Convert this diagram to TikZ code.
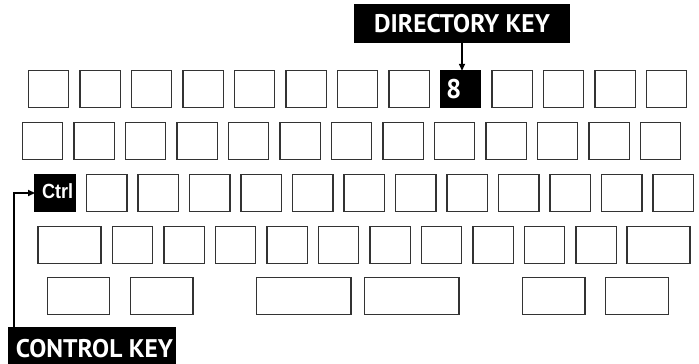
\documentclass[tikz,border=0pt]{standalone}
\usepackage{fontspec}
\setmainfont{PT Sans}
\newfontfamily\keyfont{Liberation Sans}
\usetikzlibrary{arrows.meta}
\begin{document}
\begin{tikzpicture}[x=1pt,y=-1pt,
  key/.style={draw=black!80,line width=1.3pt,minimum width=40.3pt,minimum height=37pt,inner sep=0pt,outer sep=0pt},
  blackkey/.style={key,fill=black,draw=black,text=white},
  label/.style={fill=black,text=white,inner sep=0pt,outer sep=0pt,font=\bfseries\fontsize{25.5}{25.5}\selectfont},
  conn/.style={line width=1.6pt,-{Triangle[length=7pt,width=6pt]}}]
\useasboundingbox (0,0) rectangle (699,364);
\begin{scope}
\clip (0,0) rectangle (699,364);
% row 1
\foreach \i in {0,...,12}{
  \ifnum\i=8
    \node[blackkey] (r1k\i) at (48.5+51.5*\i,89.3) {};
  \else
    \node[key] (r1k\i) at (48.5+51.5*\i,89.3) {};
  \fi
}
\node[text=white,anchor=west,inner sep=0pt,font=\bfseries\fontsize{27}{27}\selectfont] (eight) at ([xshift=5.5pt]r1k8.west) {8};
% row 2
\foreach \i in {0,...,12}{
  \node[key] (r2k\i) at (42.5+51.5*\i,141.3) {};
}
% row 3
\node[blackkey] (r3k0) at (55.2,193) {};
\node[text=white,inner sep=0pt,font=\keyfont\bfseries\fontsize{20.5}{20.5}\selectfont] (ctrltext) at (57.7,191.4) {\scalebox{0.88}[1]{Ctrl}};
\foreach \i in {1,...,12}{
  \node[key] (r3k\i) at (55.2+51.5*\i,193) {};
}
% row 4
\node[key,minimum width=63pt] (r4a) at (69.5,244.7) {};
\foreach \i in {0,...,9}{
  \node[key] (r4k\i) at (132.5+51.5*\i,244.7) {};
}
\node[key,minimum width=63pt] (r4b) at (658.5,244.7) {};
% row 5
\node[key,minimum width=62pt] (r5a) at (78.7,295.8) {};
\node[key,minimum width=62.7pt] (r5b) at (161.7,295.8) {};
\node[key,minimum width=94.7pt] (r5c) at (303.7,295.8) {};
\node[key,minimum width=94.7pt] (r5d) at (411.7,295.8) {};
\node[key,minimum width=62.7pt] (r5e) at (553.7,295.8) {};
\node[key,minimum width=63pt] (r5f) at (636.8,295.8) {};
% labels
\node[label,minimum width=216pt,minimum height=39.3pt] (dirlabel) at (462,23.7) {DIRECTORY KEY};
\node[label,minimum width=167.4pt,minimum height=44pt] (ctrllabel) at (92,348.7) {\hspace*{5pt}CONTROL KEY};
% connectors
\draw[conn] (dirlabel.south) -- (dirlabel.south |- r1k8.north);
\coordinate (bend) at (14,193);
\draw[conn] (bend |- ctrllabel.north) -- (bend) -- (r3k0.west);
\end{scope}
\end{tikzpicture}
\end{document}
